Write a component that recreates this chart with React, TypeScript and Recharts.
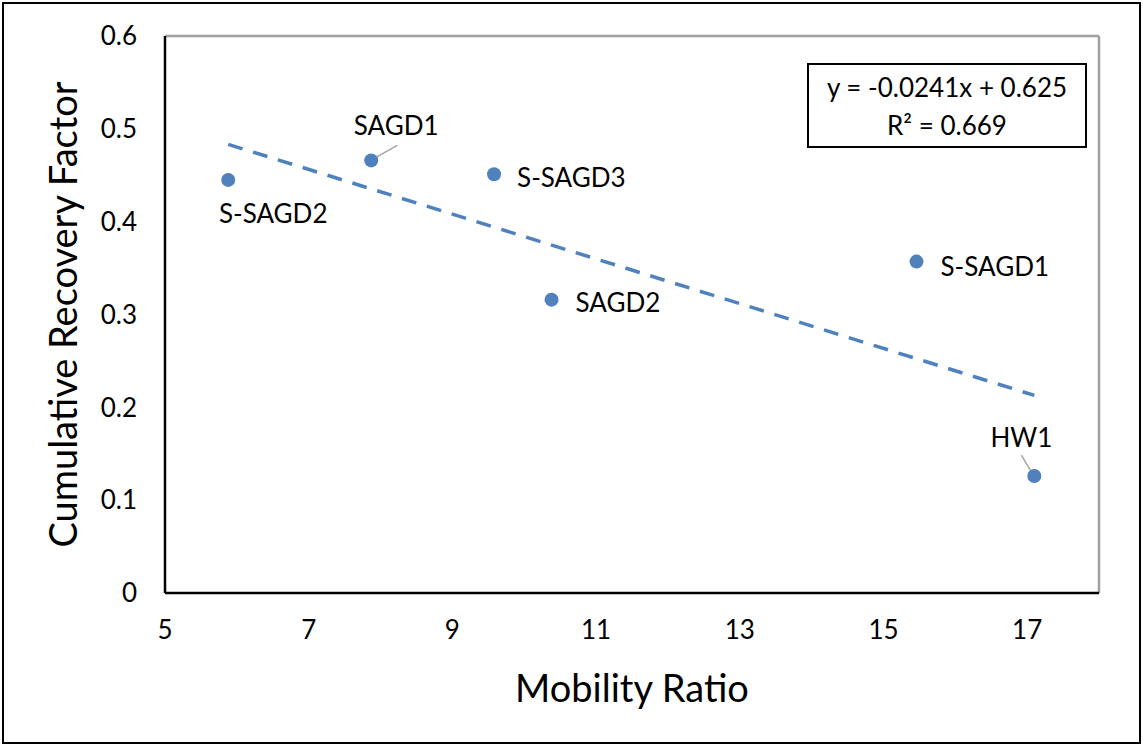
import { ReferenceLine, Scatter, ScatterChart, XAxis, YAxis } from 'recharts';

const wellNames = ['S-SAGD2', 'SAGD1', 'S-SAGD3', 'SAGD2', 'S-SAGD1', 'HW1'];
const mobilityRatio = [5.88, 7.87, 9.58, 10.38, 15.46, 17.1];
const recoveryFactor = [0.445, 0.466, 0.451, 0.316, 0.357, 0.126];

const trendSlope = -0.0241;
const trendIntercept = 0.625;
const trendText = ['y = -0.0241x + 0.625', 'R² = 0.669'];

const xTicks = [5, 7, 9, 11, 13, 15, 17];
const yTicks = [0, 0.1, 0.2, 0.3, 0.4, 0.5, 0.6];

const markerColor = '#4f81bd';
const fontFamily = 'Lato, "Open Sans", sans-serif';

const points = wellNames.map((name, i) => ({ name, x: mobilityRatio[i], y: recoveryFactor[i] }));

const xMin = Math.min(...mobilityRatio);
const xMax = Math.max(...mobilityRatio);
const trendPoints = [
  { x: xMin, y: trendSlope * xMin + trendIntercept },
  { x: xMax, y: trendSlope * xMax + trendIntercept },
];

// where each point's name sits relative to its marker (offsets in px)
const labelPlacement: Record<string, { dx: number; dy: number; anchor: string; leader?: [number, number, number, number] }> = {
  'S-SAGD2': { dx: 45, dy: 33, anchor: 'middle' },
  SAGD1: { dx: 25, dy: -35, anchor: 'middle', leader: [3, -2, 26, -15] },
  'S-SAGD3': { dx: 23, dy: 3, anchor: 'start' },
  SAGD2: { dx: 24, dy: 2, anchor: 'start' },
  'S-SAGD1': { dx: 24, dy: 4, anchor: 'start' },
  HW1: { dx: -13, dy: -39, anchor: 'middle', leader: [-1, -1, -13, -21] },
};

function PointShape(props: any) {
  const { cx, cy, payload } = props;
  const place = labelPlacement[payload.name];
  return (
    <g>
      {place.leader && (
        <line
          x1={cx + place.leader[2]}
          y1={cy + place.leader[3]}
          x2={cx + place.leader[0]}
          y2={cy + place.leader[1]}
          stroke="#a6a6a6"
          strokeWidth={1.5}
        />
      )}
      <circle cx={cx} cy={cy} r={7} fill={markerColor} />
      <text
        x={cx + place.dx}
        y={cy + place.dy}
        textAnchor={place.anchor}
        dominantBaseline="central"
        fontSize={26}
        fontFamily={fontFamily}
        fill="#000"
      >
        {payload.name}
      </text>
    </g>
  );
}

function NoShape() {
  return <g />;
}

export default function App() {
  return (
    <div style={{ position: 'absolute', left: 0, top: 0, width: 1143, height: 746, background: '#fff' }}>
      <ScatterChart width={1143} height={746} margin={{ top: 36, right: 44, left: 0, bottom: 0 }}>
        <XAxis
          type="number"
          dataKey="x"
          domain={[5, 18]}
          ticks={xTicks}
          tickLine={false}
          axisLine={{ stroke: '#000', strokeWidth: 2.5 }}
          height={153}
          tickMargin={22}
          tick={{ fill: '#000', fontSize: 26, fontFamily }}
          allowDataOverflow
          label={{
            value: 'Mobility Ratio',
            position: 'insideBottom',
            offset: 44,
            style: { fill: '#000', fontSize: 38, fontFamily },
          }}
        />
        <YAxis
          type="number"
          dataKey="y"
          domain={[0, 0.6]}
          ticks={yTicks}
          tickLine={false}
          axisLine={{ stroke: '#000', strokeWidth: 2.5 }}
          width={165}
          tickMargin={22}
          tick={{ fill: '#000', fontSize: 26, fontFamily }}
          tickFormatter={(v: number) => (v === 0 ? '0' : v.toFixed(1))}
          label={{
            value: 'Cumulative Recovery Factor',
            angle: -90,
            position: 'insideLeft',
            offset: 64,
            style: { fill: '#000', fontSize: 38, fontFamily, textAnchor: 'middle' },
          }}
        />
        <ReferenceLine y={0.6} stroke="#a0a0a0" strokeWidth={2.5} />
        <ReferenceLine x={18} stroke="#a0a0a0" strokeWidth={2.5} />
        <Scatter
          data={trendPoints}
          line={{ stroke: markerColor, strokeWidth: 3.5, strokeDasharray: '15 11' }}
          shape={NoShape}
          isAnimationActive={false}
        />
        <Scatter data={points} shape={PointShape} isAnimationActive={false} />
      </ScatterChart>
      <div
        style={{
          position: 'absolute',
          left: 807,
          top: 63,
          width: 280,
          height: 85,
          boxSizing: 'border-box',
          border: '2px solid #000',
          fontFamily,
          fontSize: 26,
          lineHeight: '38px',
          textAlign: 'center',
          paddingTop: 3,
          background: '#fff',
        }}
      >
        {trendText.map((line) => (
          <div key={line}>{line}</div>
        ))}
      </div>
      <div
        style={{
          position: 'absolute',
          left: 2,
          top: 2,
          width: 1139,
          height: 742,
          boxSizing: 'border-box',
          border: '2px solid #000',
          pointerEvents: 'none',
        }}
      />
    </div>
  );
}
